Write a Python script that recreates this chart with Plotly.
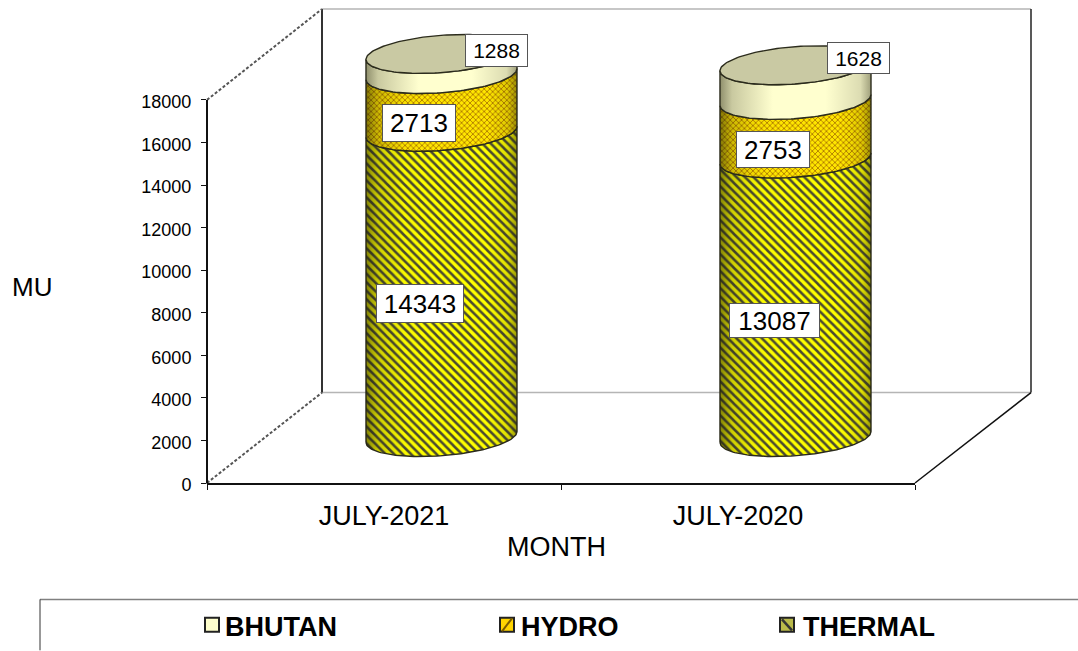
import numpy as np
import plotly.graph_objects as go

months = ["JULY-2021", "JULY-2020"]
thermal = [14343, 13087]
hydro = [2713, 2753]
bhutan = [1288, 1628]
y_ticks = [0, 2000, 4000, 6000, 8000, 10000, 12000, 14000, 16000, 18000]

W, H = 1078, 651
L, R, T, B = 207, 915, 100, 483.5
AXIS_MAX = 18000
PLOT_TOP = 4
RANGE_TOP = AXIS_MAX * (B - PLOT_TOP) / (B - T)
FONT = "Liberation Sans, Arial, sans-serif"


def px(x):
    return (x - L) / (R - L)


def py(y):
    return (B - y) / (B - PLOT_TOP)


# cylinder geometry, in axis units
CENTER_SHIFT = 0.1624
RX = 0.2133
RY = 878
TILT = 258
FLOOR = 2159

theta_front = np.linspace(np.pi, 2 * np.pi, 80)
theta_full = np.linspace(0, 2 * np.pi, 160)


def arc(cx, level, theta):
    return (cx + RX * np.cos(theta), level + RY * np.sin(theta) + TILT * np.cos(theta))


def band(cx, low, high):
    x0, y0 = arc(cx, low, theta_front)
    x1, y1 = arc(cx, high, theta_front[::-1])
    return np.r_[x0, x1, x0[0]], np.r_[y0, y1, y0[0]]


shade = [[0, "rgba(30,30,10,0.55)"], [0.08, "rgba(30,30,10,0.22)"], [0.25, "rgba(30,30,10,0.03)"],
         [0.4, "rgba(30,30,10,0)"], [0.8, "rgba(30,30,10,0)"], [0.94, "rgba(30,30,10,0.14)"],
         [1, "rgba(30,30,10,0.45)"]]
OUT = dict(color="#2b2b1c", width=1.4)
fig = go.Figure()

for i, name in enumerate(months):
    cx = i + 0.5 + CENTER_SHIFT
    t_top = FLOOR + thermal[i]
    h_top = t_top + hydro[i]
    # the pile is cut where the value axis ends
    b_top = min(h_top + bhutan[i], FLOOR + AXIS_MAX)

    x, y = band(cx, FLOOR, t_top)
    fig.add_trace(go.Scatter(x=x, y=y, mode="lines", fill="toself", name="THERMAL", line=OUT,
                             fillpattern=dict(shape="\\", size=6, solidity=0.42, fgcolor="#4b4b30",
                                              bgcolor="#ffff00", fillmode="replace"),
                             showlegend=False, hoverinfo="skip"))
    fig.add_trace(go.Scatter(x=x, y=y, mode="lines", fill="toself", line=dict(width=0),
                             fillgradient=dict(type="horizontal", colorscale=shade),
                             showlegend=False, hoverinfo="skip"))

    x, y = band(cx, t_top, h_top)
    fig.add_trace(go.Scatter(x=x, y=y, mode="lines", fill="toself", name="HYDRO", line=OUT,
                             fillpattern=dict(shape="x", size=4, solidity=0.4, fgcolor="#b07c00",
                                              bgcolor="#ffe600", fillmode="replace"),
                             showlegend=False, hoverinfo="skip"))
    fig.add_trace(go.Scatter(x=x, y=y, mode="lines", fill="toself", line=dict(width=0),
                             fillgradient=dict(type="horizontal", colorscale=shade),
                             showlegend=False, hoverinfo="skip"))

    x, y = band(cx, h_top, b_top)
    fig.add_trace(go.Scatter(x=x, y=y, mode="lines", fill="toself", name="BHUTAN", line=OUT,
                             fillgradient=dict(type="horizontal", colorscale=[
                                 [0, "#8f8f6c"], [0.08, "#c9c9a0"], [0.35, "#ffffcf"], [0.7, "#ffffcf"],
                                 [0.93, "#dcdcb2"], [1, "#a0a07c"]]),
                             showlegend=False, hoverinfo="skip"))

    x, y = arc(cx, b_top, theta_full)
    fig.add_trace(go.Scatter(x=x, y=y, mode="lines", fill="toself", name="BHUTAN top", line=OUT,
                             fillcolor="#c9c9a3", showlegend=False, hoverinfo="skip"))

# walls and floor of the 3D frame
shapes = []


def seg(x0, y0, x1, y1, color, width, dash="solid", layer="below"):
    shapes.append(dict(type="line", xref="paper", yref="paper", x0=px(x0), y0=py(y0), x1=px(x1), y1=py(y1),
                       line=dict(color=color, width=width, dash=dash), layer=layer))


seg(322, 9, 1031, 9, "#b5b5b5", 1.5)
seg(322, 393, 1031, 393, "#b5b5b5", 1.5)
seg(322, 9, 322, 393, "#333333", 2)
seg(1031, 9, 1031, 393, "#222222", 1.5)
seg(207, 100, 322, 9, "#555555", 2, "3px,2px")
seg(207, 483.5, 322, 393, "#555555", 2, "3px,2px")
seg(915, 483.5, 1031, 393, "#111111", 1.5)
seg(207, 100, 207, 484, "#111111", 2)
# legend frame
seg(40, 600, 1078, 600, "#808080", 1.5)
seg(40, 600, 40, 651, "#333333", 1)


def swatch(x, color):
    shapes.append(dict(type="rect", xref="paper", yref="paper", x0=px(x), x1=px(x + 14),
                       y0=py(632.5), y1=py(618.5), fillcolor=color,
                       line=dict(color="#222222", width=2)))


swatch(205, "#ffffcc")
swatch(500, "#ffd400")
swatch(780, "#b9b94a")
seg(502, 632, 512, 619, "#7a5a00", 2, layer="above")
seg(782, 620, 792, 631, "#333333", 2.5, layer="above")


def note(text, x, y, size, xanchor="center", **kw):
    return dict(text=text, x=px(x), y=py(y), xref="paper", yref="paper", showarrow=False,
                xanchor=xanchor, yanchor="middle",
                font=dict(family=FONT, size=size, color="#000000"), **kw)


def box(value, x0, x1, y0, y1, size):
    return note(str(value), (x0 + x1) / 2, (y0 + y1) / 2, size, bgcolor="#ffffff", bordercolor="#555555",
                borderwidth=1, borderpad=0, width=x1 - x0 - 2, height=y1 - y0 - 2)


annotations = [
    note("MU", 32, 287, 26),
    note("MONTH", 556, 548, 27),
    box(thermal[0], 376, 464, 284, 323, 26),
    box(hydro[0], 382, 456, 104, 142, 26),
    box(bhutan[0], 465, 528, 34, 67, 21),
    box(thermal[1], 729, 820, 303, 338, 26),
    box(hydro[1], 736, 810, 131, 168, 26),
    box(bhutan[1], 827, 890, 42, 74, 21),
    note("<b>BHUTAN</b>", 223, 628, 27, xanchor="left"),
    note("<b>HYDRO</b>", 519, 628, 27, xanchor="left"),
    note("<b>THERMAL</b>", 801, 628, 27, xanchor="left"),
]

fig.update_layout(
    width=W, height=H, paper_bgcolor="#ffffff", plot_bgcolor="rgba(0,0,0,0)", showlegend=False,
    margin=dict(l=L, r=W - R, t=PLOT_TOP, b=H - B, pad=0, autoexpand=False),
    shapes=shapes, annotations=annotations,
    xaxis=dict(range=[0, 2], tickvals=[0.5, 1.5], ticktext=months, ticks="", showgrid=False, zeroline=False,
               showline=True, linecolor="#111111", linewidth=2, ticklabelstandoff=8,
               tickfont=dict(family=FONT, size=27, color="#000000"),
               minor=dict(tickvals=[0, 1, 2], ticks="outside", ticklen=5, tickcolor="#111111", tickwidth=1)),
    yaxis=dict(range=[0, RANGE_TOP], tickvals=y_ticks, tickformat="d", ticks="outside", ticklen=5,
               tickcolor="#111111", tickwidth=1, showgrid=False, zeroline=False, showline=False,
               ticklabelstandoff=6, ticklabelshift=2,
               tickfont=dict(family=FONT, size=18, color="#000000")),
)

fig.write_html("out.html", config={"displayModeBar": False}, post_script="document.body.style.margin='0';")
